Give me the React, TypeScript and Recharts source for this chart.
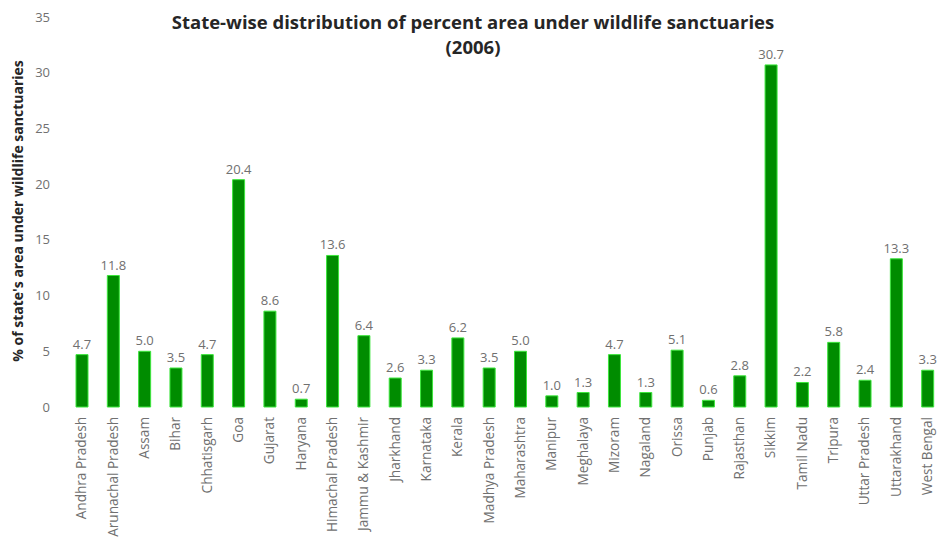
import { BarChart, Bar, XAxis, YAxis, LabelList } from "recharts";

const states = [
  "Andhra Pradesh", "Arunachal Pradesh", "Assam", "Bihar", "Chhatisgarh", "Goa", "Gujarat",
  "Haryana", "Himachal Pradesh", "Jammu & Kashmir", "Jharkhand", "Karnataka", "Kerala",
  "Madhya Pradesh", "Maharashtra", "Manipur", "Meghalaya", "Mizoram", "Nagaland", "Orissa",
  "Punjab", "Rajasthan", "Sikkim", "Tamil Nadu", "Tripura", "Uttar Pradesh", "Uttarakhand",
  "West Bengal",
];
const percentArea = [
  4.7, 11.8, 5.0, 3.5, 4.7, 20.4, 8.6, 0.7, 13.6, 6.4, 2.6, 3.3, 6.2, 3.5, 5.0, 1.0, 1.3,
  4.7, 1.3, 5.1, 0.6, 2.8, 30.7, 2.2, 5.8, 2.4, 13.3, 3.3,
];
const yTicks = [0, 5, 10, 15, 20, 25, 30, 35];

const data = states.map((state, i) => ({ state, value: percentArea[i] }));

const FONT = "'Open Sans', Lato, sans-serif";
const GREY = "#707070";

const StateTick = ({ x, y, payload }: any) => (
  <g transform={`translate(${x},${y})`}>
    <text transform="rotate(-90)" x={-2} y={0} dy="0.35em" textAnchor="end" fill={GREY} fontSize={13.6} fontFamily={FONT}>
      {payload.value}
    </text>
  </g>
);

const App = () => {
  return (
    <div style={{ position: "absolute", left: 0, top: 0, width: 939, height: 543, overflow: "hidden", background: "#fff" }}>
      <div style={{ position: "absolute", left: 0, top: 9, width: 946, textAlign: "center", fontFamily: FONT, fontWeight: 700, fontSize: 18.5, lineHeight: "25px", color: "#262626" }}>
        State-wise distribution of percent area under wildlife sanctuaries
        <br />
        (2006)
      </div>
      <svg width={40} height={543} style={{ position: "absolute", left: 0, top: 0 }}>
        <text
          x={18}
          y={211}
          transform="rotate(-90 18 211)"
          textAnchor="middle"
          dy="0.35em"
          fill="#262626"
          fontSize={14}
          fontWeight={700}
          fontFamily={FONT}
        >
          % of state's area under wildlife sanctuaries
        </text>
      </svg>
      <BarChart width={946} height={543} data={data} margin={{ top: 17, right: 3, bottom: 0, left: 16 }}>
        <XAxis dataKey="state" axisLine={false} tickLine={false} interval={0} height={136} tick={<StateTick />} />
        <YAxis
          domain={[0, 35]}
          ticks={yTicks}
          width={50}
          axisLine={false}
          tickLine={false}
          tickMargin={10}
          tick={{ fill: GREY, fontSize: 13, fontFamily: FONT }}
        />
        <Bar dataKey="value" fill="#008C00" stroke="#3CE63C" strokeWidth={1} barSize={12} isAnimationActive={false}>
          <LabelList dataKey="value" position="top" offset={6} formatter={(v: any) => Number(v).toFixed(1)} fill={GREY} fontSize={13} fontFamily={FONT} />
        </Bar>
      </BarChart>
    </div>
  );
};

export default App;
